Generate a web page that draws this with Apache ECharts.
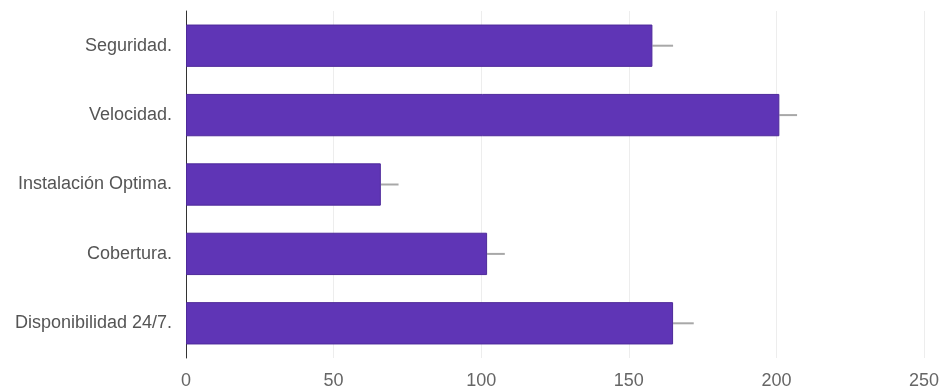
<!DOCTYPE html>
<html>
<head>
<meta charset="utf-8">
<script src="https://cdn.jsdelivr.net/npm/echarts@6/dist/echarts.min.js"></script>
<style>
html,body{margin:0;padding:0;background:#fff;}
#main{width:939px;height:391px;}
</style>
</head>
<body>
<div id="main"></div>
<script>
var categories = ['Seguridad.', 'Velocidad.', 'Instalación Optima.', 'Cobertura.', 'Disponibilidad 24/7.'];
var values = [158, 201, 66, 102, 165];
var whiskerEnds = [165, 207, 72, 108, 172];
var xTicks = [0, 50, 100, 150, 200, 250];

var myChart = echarts.init(document.getElementById('main'));

var whiskerData = [];
for (var i = 0; i < values.length; i++) {
	whiskerData.push([values[i], whiskerEnds[i], i]);
}

var option = {
	animation: false,
	grid: { left: 186, right: 15, top: 11, bottom: 33, outerBoundsMode: 'none', containLabel: false },
	xAxis: {
		type: 'value',
		min: xTicks[0],
		max: xTicks[xTicks.length - 1],
		interval: 50,
		axisLine: { show: false },
		axisTick: { show: false },
		splitLine: { lineStyle: { color: '#ededed', width: 1 } },
		axisLabel: { color: '#666', fontSize: 18, fontFamily: 'Liberation Sans', margin: 14 }
	},
	yAxis: {
		type: 'category',
		data: categories,
		inverse: true,
		axisLine: { show: true, lineStyle: { color: '#333', width: 1 } },
		axisTick: { show: false },
		axisLabel: { color: '#555', fontSize: 18, fontFamily: 'Liberation Sans', margin: 14 }
	},
	series: [
		{
			type: 'bar',
			data: values,
			barCategoryGap: '39%',
			itemStyle: { color: '#5f35b6', borderColor: '#4e2a9a', borderWidth: 1 }
		},
		{
			type: 'custom',
			data: whiskerData,
			z: 1,
			renderItem: function (params, api) {
				var p1 = api.coord([api.value(0), api.value(2)]);
				var p2 = api.coord([api.value(1), api.value(2)]);
				return {
					type: 'line',
					shape: { x1: p1[0], y1: p1[1], x2: p2[0], y2: p2[1] },
					style: { stroke: '#a8a8a8', lineWidth: 2 }
				};
			}
		}
	]
};
myChart.setOption(option);
</script>
</body>
</html>
